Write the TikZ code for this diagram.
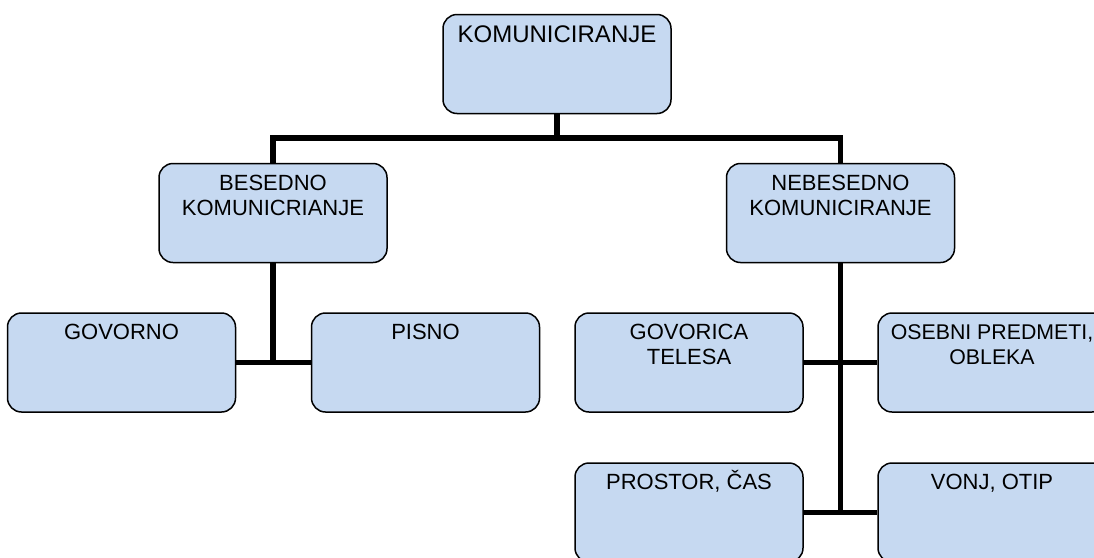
\documentclass[tikz,border=0pt]{standalone}
\usepackage{fontspec}
\setmainfont{Liberation Sans}
\definecolor{boxfill}{HTML}{C6D9F1}
\newcommand{\boxtext}[3][22pt]{\parbox[t][99pt][t]{228pt}{\centering\fontsize{#1}{25pt}\selectfont\rule{0pt}{#2}#3}}
\tikzset{
  box/.style={draw=black, line width=1.5pt, fill=boxfill, rounded corners=14pt,
    inner sep=0pt, minimum width=228pt, minimum height=99pt},
  conn/.style={line width=5.5pt, black}
}
\begin{document}
\begin{tikzpicture}[x=1pt,y=-1pt]
\useasboundingbox (0,0) rectangle (1094,557);
\clip (0,0) rectangle (1094,557);
\node[box] (top) at (557,64) {\boxtext[24pt]{28pt}{KOMUNICIRANJE}};
\node[box] (bes) at (273,213) {\boxtext{27pt}{BESEDNO\\KOMUNICRIANJE}};
\node[box] (neb) at (840.5,213) {\boxtext{27pt}{NEBESEDNO\\KOMUNICIRANJE}};
\node[box] (gov) at (121.5,362.5) {\boxtext{26pt}{GOVORNO}};
\node[box] (pis) at (425.5,362.5) {\boxtext{26pt}{PISNO}};
\node[box] (gt) at (689,362.5) {\boxtext{26pt}{GOVORICA\\TELESA}};
\node[box] (osb) at (992,362.5) {\boxtext[21.3pt]{26pt}{OSEBNI PREDMETI,\\OBLEKA}};
\node[box] (pro) at (689,512.5) {\boxtext{26pt}{PROSTOR, ČAS}};
\node[box] (von) at (992,512.5) {\boxtext{26pt}{VONJ, OTIP}};
\coordinate (j1) at (557,138);
\draw[conn] (top.south) -- (j1);
\draw[conn] (bes.north) -- (bes.north |- j1) -- (neb.north |- j1) -- (neb.north);
\draw[conn] (bes.south) -- (bes.south |- gov.east);
\draw[conn] (gov.east) -- (pis.west);
\draw[conn] (neb.south) -- ([yshift=2.5pt]neb.south |- pro.east);
\draw[conn] (gt.east) -- (osb.west);
\draw[conn] (pro.east) -- (von.west);
\end{tikzpicture}
\end{document}
